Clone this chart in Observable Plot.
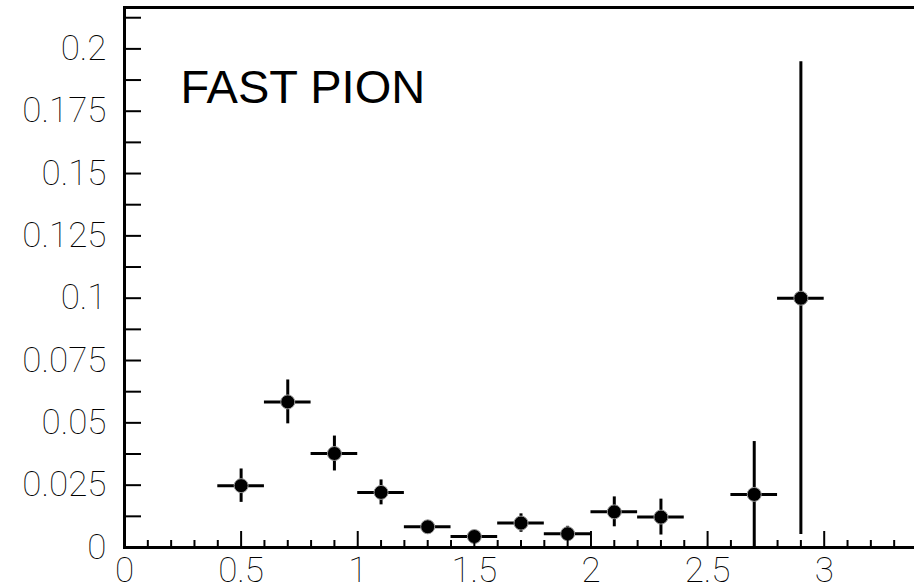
<!DOCTYPE html>
<html>
<head>
<meta charset="utf-8">
<script src="https://cdn.jsdelivr.net/npm/d3@7"></script>
<script src="https://cdn.jsdelivr.net/npm/@observablehq/plot@0.6"></script>
<style>
  html, body { margin: 0; padding: 0; background: #fff; overflow: hidden; }
  #chart svg { display: block; }
</style>
</head>
<body>
<div id="chart"></div>
<script>
// ---- data ----
const binCenters = [0.5, 0.7, 0.9, 1.1, 1.3, 1.5, 1.7, 1.9, 2.1, 2.3, 2.7, 2.9];
const values     = [0.0248, 0.0584, 0.0377, 0.0221, 0.0083, 0.0044, 0.0098, 0.0055, 0.0143, 0.0122, 0.0213, 0.100];
const yErrors    = [0.0067, 0.0088, 0.0070, 0.0050, 0.0020, 0.0015, 0.0037, 0.0030, 0.0060, 0.0072, 0.0212, 0.0948];
const xErrors    = [0.1, 0.1, 0.1, 0.1, 0.1, 0.1, 0.1, 0.1, 0.1, 0.1, 0.1, 0.1];

const title = "FAST PION";

const xMajorTicks  = [0, 0.5, 1, 1.5, 2, 2.5, 3];
const xTickLabels  = ["0", "0.5", "1", "1.5", "2", "2.5", "3"];
const xMinorTicks  = [0.1, 0.2, 0.3, 0.4, 0.6, 0.7, 0.8, 0.9, 1.1, 1.2, 1.3, 1.4, 1.6, 1.7, 1.8, 1.9,
                      2.1, 2.2, 2.3, 2.4, 2.6, 2.7, 2.8, 2.9, 3.1, 3.2, 3.3];
const yLabelTicks  = [0, 0.025, 0.05, 0.075, 0.1, 0.125, 0.15, 0.175, 0.2];
const yTickLabels  = ["0", "0.025", "0.05", "0.075", "0.1", "0.125", "0.15", "0.175", "0.2"];
const yMinorTicks  = [0, 0.0125, 0.025, 0.0375, 0.05, 0.0625, 0.075, 0.0875, 0.1, 0.1125, 0.125,
                      0.1375, 0.15, 0.1625, 0.175, 0.1875, 0.2, 0.2125];
const xDomain = [0, 3.4];
const yDomain = [0, 0.2166];

// ---- table built from arrays ----
const points = binCenters.map((x, i) => ({
  x, y: values[i], ey: yErrors[i], ex: xErrors[i]
}));

const labelFont = {fontFamily: "Roboto, 'Liberation Sans', sans-serif", fontWeight: 100, fontSize: 35};

const chart = Plot.plot({
  width: 914,
  height: 587,
  marginLeft: 124,
  marginRight: -3,
  marginTop: 7,
  marginBottom: 40,
  x: {domain: xDomain, label: null},
  y: {domain: yDomain, label: null},
  marks: [
    // vertical error bars
    Plot.ruleX(points, {x: "x", y1: d => Math.max(0, d.y - d.ey), y2: d => d.y + d.ey, stroke: "#000", strokeWidth: 3}),
    // horizontal bin-width bars
    Plot.ruleY(points, {y: "y", x1: d => d.x - d.ex, x2: d => d.x + d.ex, stroke: "#000", strokeWidth: 3}),
    // markers
    Plot.dot(points, {x: "x", y: "y", r: 7, fill: "#000", stroke: "#999", strokeWidth: 1}),
    // y ticks (inward)
    Plot.axisY({ticks: yMinorTicks, tickSize: -17, text: null, label: null, stroke: "#000", strokeWidth: 2}),
    Plot.axisY({ticks: yLabelTicks, tickSize: 0, tickPadding: 18, label: null,
      tickFormat: d => yTickLabels[yLabelTicks.indexOf(d)], fill: "#000", ...labelFont}),
    // x ticks (inward)
    Plot.axisX({ticks: xMinorTicks, tickSize: -7, text: null, label: null, stroke: "#000", strokeWidth: 2}),
    Plot.axisX({ticks: xMajorTicks, tickSize: -16, text: null, label: null, stroke: "#000", strokeWidth: 2}),
    Plot.axisX({ticks: xMajorTicks, tickSize: 0, tickPadding: 10, label: null,
      tickFormat: d => xTickLabels[xMajorTicks.indexOf(d)], fill: "#000", ...labelFont}),
    Plot.frame({stroke: "#000", strokeWidth: 3}),
    Plot.text([title], {frameAnchor: "top-left", dx: 56, dy: 95, lineAnchor: "bottom", textAnchor: "start",
      text: d => d, fontSize: 47, fontFamily: "'Liberation Sans', Arial, sans-serif", fill: "#000"})
  ]
});

document.getElementById("chart").appendChild(chart);
</script>
</body>
</html>
